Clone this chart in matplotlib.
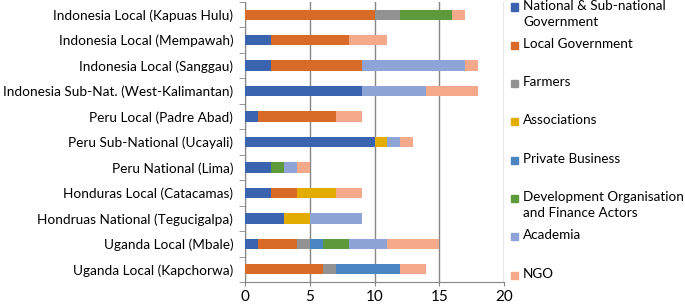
import numpy as np
import matplotlib
matplotlib.use("Agg")
import matplotlib.pyplot as plt
from matplotlib.patches import Rectangle

plt.rcParams['font.family'] = ['Lato', 'DejaVu Sans']

regions = ["Indonesia Local (Kapuas Hulu)",
           "Indonesia Local (Mempawah)",
           "Indonesia Local (Sanggau)",
           "Indonesia Sub-Nat. (West-Kalimantan)",
           "Peru Local (Padre Abad)",
           "Peru Sub-National (Ucayali)",
           "Peru National (Lima)",
           "Honduras Local (Catacamas)",
           "Hondruas National (Tegucigalpa)",
           "Uganda Local (Mbale)",
           "Uganda Local (Kapchorwa)"]

actors = ["National & Sub-national\nGovernment",
          "Local Government",
          "Farmers",
          "Associations",
          "Private Business",
          "Development Organisation\nand Finance Actors",
          "Academia",
          "NGO"]

# counts per region, one list per actor group (same order as regions)
national   = [0, 2, 2, 9, 1, 10, 2, 2, 3, 1, 0]
local_gov  = [10, 6, 7, 0, 6, 0, 0, 2, 0, 3, 6]
farmers    = [2, 0, 0, 0, 0, 0, 0, 0, 0, 1, 1]
assoc      = [0, 0, 0, 0, 0, 1, 0, 3, 2, 0, 0]
private    = [0, 0, 0, 0, 0, 0, 0, 0, 0, 1, 5]
dev_org    = [4, 0, 0, 0, 0, 0, 1, 0, 0, 2, 0]
academia   = [0, 0, 8, 5, 0, 1, 1, 0, 4, 3, 0]
ngo        = [1, 3, 1, 4, 2, 1, 1, 2, 0, 4, 2]

series = [national, local_gov, farmers, assoc, private, dev_org, academia, ngo]
colors = ['#3A63B0', '#D86B28', '#929292', '#E2AC00',
          '#4A86C1', '#5C9A3B', '#8FA4D6', '#F4A98A']

fig = plt.figure(figsize=(6.85, 3.06), dpi=100)
ax = fig.add_axes([245/685, 1 - 282/306, 259/685, 280/306])

y = np.arange(len(regions))
left = np.zeros(len(regions))
for vals, c in zip(series, colors):
    vals = np.array(vals, dtype=float)
    ax.barh(y, vals, left=left, height=0.41, color=c, zorder=3)
    left += vals

ax.set_ylim(len(regions) - 0.5, -0.5)
ax.set_xlim(0, 20)
ax.set_xticks([0, 5, 10, 15, 20])
ax.tick_params(axis='x', labelsize=11, length=3, color='#868686', pad=3)
ax.xaxis.grid(True, color='#868686', linewidth=1, zorder=0)

# category labels centered, tick marks between categories
ax.set_yticks(y)
ax.set_yticklabels(regions, fontsize=9.8)
ax.tick_params(axis='y', length=0, pad=8.5)
ax.set_yticks(np.arange(-0.5, len(regions)), minor=True)
ax.tick_params(axis='y', which='minor', length=4, color='#868686')

for s in ['top', 'right']:
    ax.spines[s].set_visible(False)
for s in ['left', 'bottom']:
    ax.spines[s].set_color('#868686')

# legend laid out like the Excel one: entries spread over the full height
y0, step = 7, 38.3
for i, (lab, c) in enumerate(zip(actors, colors)):
    yc = y0 + i * step
    fig.add_artist(Rectangle((511/685, 1 - (yc + 3.5)/306), 6.5/685, 7/306,
                             transform=fig.transFigure, color=c))
    fig.text(523/685, 1 - (yc - 7.5)/306, lab, fontsize=9.7, va='top',
             ha='left', linespacing=1.4)

fig.savefig("out.png", dpi=100)
